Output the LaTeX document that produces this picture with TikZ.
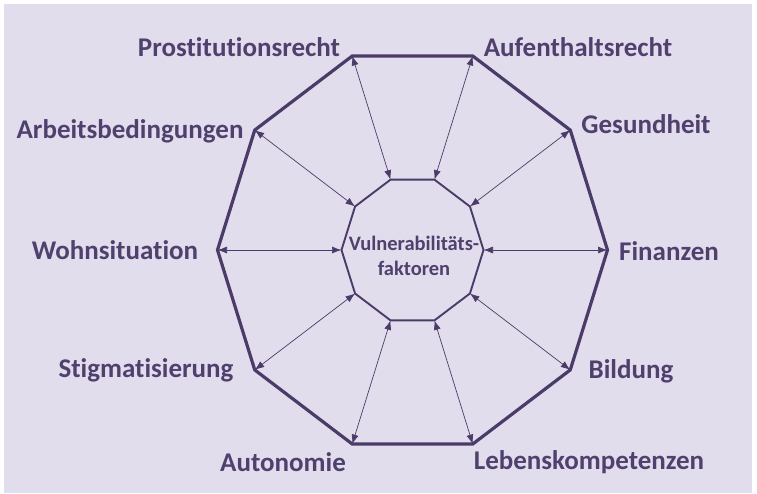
\documentclass[tikz,border=0pt]{standalone}
\usepackage{fontspec}
\setmainfont{Carlito}[Ligatures=NoCommon]
\usetikzlibrary{arrows.meta}
\definecolor{bgc}{RGB}{226,221,236}
\definecolor{linec}{RGB}{75,59,105}
\definecolor{textc}{RGB}{79,64,110}
\tikzset{
  outerpoly/.style={draw=linec, line width=3.2pt, line join=miter},
  innerpoly/.style={draw=linec, line width=1.9pt, line join=miter},
  link/.style={draw=linec, line width=0.7pt, {Latex[length=9.5pt,width=7pt]}-{Latex[length=9.5pt,width=7pt]}},
  lab/.style={text=textc, font=\fontsize{27}{31}\selectfont\bfseries, inner sep=0pt},
  centerlab/.style={text=textc, font=\fontsize{20.5}{25}\selectfont\bfseries, align=center, inner sep=0pt}
}
\begin{document}
\begin{tikzpicture}[x=1pt,y=-1pt]
\useasboundingbox (0,0) rectangle (757,493);
\fill[white] (0,0) rectangle (757,493);
\fill[bgc] (4,4) rectangle (752,493);
% vertices
\foreach \k in {0,...,9}{
  \pgfmathsetmacro{\a}{36*\k}
  \coordinate (o\k) at ({412.5+195*cos(\a)},{250-204*sin(\a)});
  \coordinate (i\k) at ({412.5+71*cos(\a)},{250-74*sin(\a)});
}
\draw[outerpoly] (o0) -- (o1) -- (o2) -- (o3) -- (o4) -- (o5) -- (o6) -- (o7) -- (o8) -- (o9) -- cycle;
\draw[innerpoly] (i0) -- (i1) -- (i2) -- (i3) -- (i4) -- (i5) -- (i6) -- (i7) -- (i8) -- (i9) -- cycle;
\foreach \k in {0,...,9}{
  \draw[link] (i\k) -- (o\k);
}
\node[centerlab] (c) at (414,256) {Vulnerabilitäts-\\faktoren};
\node[lab] (l1) at (239,47) {Prostitutionsrecht};
\node[lab] (l2) at (578,47) {Aufenthaltsrecht};
\node[lab] (l3) at (130,131) {Arbeitsbedingungen};
\node[lab] (l4) at (646,124) {Gesundheit};
\node[lab] (l5) at (115,250) {Wohnsituation};
\node[lab] (l6) at (669,251) {Finanzen};
\node[lab] (l7) at (146,370) {Stigmatisierung};
\node[lab] (l8) at (631,371) {Bildung};
\node[lab] (l9) at (283,462) {Autonomie};
\node[lab] (l10) at (589,462) {Lebenskompetenzen};
\end{tikzpicture}
\end{document}
